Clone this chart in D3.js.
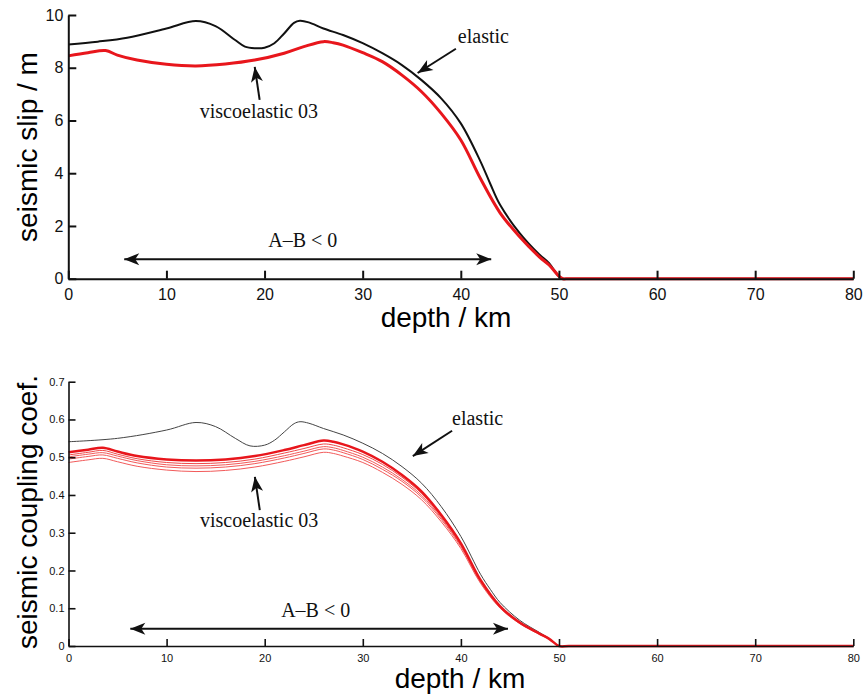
<!DOCTYPE html>
<html>
<head>
<meta charset="utf-8">
<script src="https://cdn.jsdelivr.net/npm/d3@7"></script>
<style>
  body { margin: 0; background: #fff; }
  svg { display: block; }
</style>
</head>
<body>
<div id="chart"></div>
<script>
// ---- data ----
const xTicks = [0, 10, 20, 30, 40, 50, 60, 70, 80];
const slipTicks = [0, 2, 4, 6, 8, 10];
const couplingTicks = [0, 0.1, 0.2, 0.3, 0.4, 0.5, 0.6, 0.7];

// top panel: seismic slip (m)
const slipElasticDepth = [0, 3, 6, 10, 13, 15, 17, 18, 19, 20, 21, 22, 23, 23.6, 24.5, 26, 28, 30, 32, 34, 36, 38, 40, 42, 43, 44, 46, 48, 49, 50, 50.4, 51, 55, 60, 70, 80];
const slipElastic = [8.88, 8.99, 9.14, 9.49, 9.77, 9.58, 9.05, 8.8, 8.74, 8.76, 8.93, 9.3, 9.7, 9.78, 9.72, 9.49, 9.24, 8.93, 8.55, 8.1, 7.53, 6.84, 5.89, 4.45, 3.6, 2.8, 1.73, 0.92, 0.59, 0.08, 0, 0, 0, 0, 0, 0];

const slipViscoDepth = [0, 2, 3.8, 5, 7, 10, 13, 16, 19, 22, 24, 26, 27, 28, 30, 32, 34, 36, 38, 40, 42, 44, 46, 48, 49, 50, 50.4, 51, 55, 60, 70, 80];
const slipVisco = [8.45, 8.57, 8.65, 8.48, 8.29, 8.13, 8.07, 8.14, 8.29, 8.55, 8.8, 8.99, 8.95, 8.86, 8.57, 8.23, 7.72, 7.09, 6.27, 5.26, 3.8, 2.5, 1.59, 0.83, 0.52, 0.1, 0, 0, 0, 0, 0, 0];

// bottom panel: seismic coupling coefficient
const coupElasticDepth = [0, 5, 10, 13, 15, 17, 18.5, 20, 21, 22, 23, 23.6, 24.5, 26, 28, 30, 32, 34, 36, 38, 40, 42, 43, 44, 46, 48, 49, 50, 51, 55, 60, 70, 80];
const coupElastic = [0.541, 0.55, 0.572, 0.592, 0.581, 0.55, 0.53, 0.532, 0.545, 0.567, 0.589, 0.594, 0.59, 0.576, 0.559, 0.537, 0.51, 0.475, 0.431, 0.369, 0.29, 0.19, 0.15, 0.115, 0.068, 0.036, 0.02, 0, 0, 0, 0, 0, 0];

const coupViscoDepth = [0, 2, 3.5, 5, 7, 10, 13, 16, 19, 22, 24, 26, 27, 28, 30, 32, 34, 36, 38, 40, 42, 44, 46, 48, 49, 50, 51, 55, 60, 70, 80];
const coupVisco = [0.513, 0.52, 0.525, 0.515, 0.503, 0.494, 0.491, 0.494, 0.503, 0.519, 0.532, 0.544, 0.541, 0.534, 0.515, 0.488, 0.453, 0.409, 0.347, 0.272, 0.175, 0.105, 0.062, 0.033, 0.019, 0, 0, 0, 0, 0, 0];
const coupVisco1 = [0.506, 0.513, 0.518, 0.508, 0.496, 0.486, 0.483, 0.486, 0.495, 0.511, 0.523, 0.535, 0.532, 0.525, 0.507, 0.481, 0.447, 0.404, 0.343, 0.269, 0.173, 0.104, 0.061, 0.033, 0.019, 0, 0, 0, 0, 0, 0];
const coupVisco2 = [0.501, 0.508, 0.512, 0.503, 0.491, 0.480, 0.477, 0.480, 0.489, 0.504, 0.516, 0.528, 0.525, 0.518, 0.500, 0.474, 0.441, 0.399, 0.339, 0.266, 0.171, 0.103, 0.061, 0.032, 0.019, 0, 0, 0, 0, 0, 0];
const coupVisco3 = [0.495, 0.502, 0.506, 0.497, 0.485, 0.474, 0.471, 0.474, 0.483, 0.498, 0.510, 0.522, 0.519, 0.512, 0.494, 0.468, 0.436, 0.394, 0.335, 0.263, 0.169, 0.102, 0.060, 0.032, 0.018, 0, 0, 0, 0, 0, 0];
const coupVisco4 = [0.486, 0.493, 0.497, 0.488, 0.476, 0.466, 0.462, 0.465, 0.474, 0.489, 0.501, 0.513, 0.510, 0.503, 0.486, 0.460, 0.428, 0.387, 0.329, 0.258, 0.166, 0.100, 0.059, 0.031, 0.018, 0, 0, 0, 0, 0, 0];

const zip = (xs, ys) => xs.map((x, i) => [x, ys[i]]);

const svg = d3.select("#chart").append("svg")
    .attr("width", 865)
    .attr("height", 697);

// arrow head
svg.append("defs").append("marker")
    .attr("id", "head")
    .attr("viewBox", "-16 -7 18 14")
    .attr("markerUnits", "userSpaceOnUse")
    .attr("markerWidth", 18)
    .attr("markerHeight", 14)
    .attr("refX", 0)
    .attr("refY", 0)
    .attr("orient", "auto-start-reverse")
    .append("path")
    .attr("d", "M0,0 L-15,-6 L-11,0 L-15,6 Z")
    .attr("fill", "#111");

const sans = "'Liberation Sans', Arial, Helvetica, sans-serif";
const serif = "'Liberation Serif', 'Times New Roman', serif";

function panel(opt) {
    const x = d3.scaleLinear().domain([0, 80]).range(opt.xRange);
    const y = d3.scaleLinear().domain(opt.yDomain).range(opt.yRange);
    const g = svg.append("g");

    const line = d3.line()
        .x(d => x(d[0]))
        .y(d => y(d[1]))
        .curve(d3.curveCatmullRom.alpha(0.5));

    // curves
    opt.series.forEach(s => {
        g.append("path")
            .datum(zip(s.x, s.y))
            .attr("d", line)
            .attr("fill", "none")
            .attr("stroke", s.color)
            .attr("stroke-width", s.width)
            .attr("stroke-linejoin", "round");
    });

    // axes, ticks pointing inward
    const xAxis = g.append("g")
        .attr("transform", `translate(0,${opt.yRange[0]})`)
        .call(d3.axisBottom(x).tickValues(xTicks).tickSize(-opt.tick).tickSizeOuter(0).tickPadding(opt.xPad));
    const yAxis = g.append("g")
        .attr("transform", `translate(${opt.xRange[0]},0)`)
        .call(d3.axisLeft(y).tickValues(opt.yTicks).tickSize(-opt.tick).tickSizeOuter(0).tickPadding(opt.yPad)
            .tickFormat(d3.format(opt.yFmt)));
    [xAxis, yAxis].forEach(a => {
        a.selectAll("path, line").attr("stroke", "#111").attr("stroke-width", opt.axisW);
        a.selectAll("text").attr("fill", "#111").attr("font-family", sans);
    });
    xAxis.selectAll("text").attr("font-size", opt.xFont);
    yAxis.selectAll("text").attr("font-size", opt.yFont);

    // axis titles
    g.append("text")
        .attr("x", opt.xLabelX).attr("y", opt.xLabelY)
        .attr("text-anchor", "middle")
        .attr("font-family", sans).attr("font-size", 28)
        .text("depth / km");
    g.append("text")
        .attr("transform", `translate(37,${opt.yLabelY}) rotate(-90)`)
        .attr("text-anchor", "middle")
        .attr("font-family", sans).attr("font-size", 28)
        .text(opt.yLabel);

    // annotations
    const a = opt.notes;
    const arrow = (p, q, both) => g.append("line")
        .attr("x1", x(p[0])).attr("y1", y(p[1]))
        .attr("x2", x(q[0])).attr("y2", y(q[1]))
        .attr("stroke", "#111").attr("stroke-width", 2)
        .attr("marker-end", "url(#head)")
        .attr("marker-start", both ? "url(#head)" : null);
    const label = (p, txt, anchor) => g.append("text")
        .attr("x", x(p[0])).attr("y", y(p[1]))
        .attr("text-anchor", anchor)
        .attr("font-family", serif).attr("font-size", 20)
        .attr("fill", "#111")
        .text(txt);

    label(a.elasticText, "elastic", "start");
    arrow(a.elasticFrom, a.elasticTo);
    label(a.viscoText, "viscoelastic 03", "start");
    arrow(a.viscoFrom, a.viscoTo);
    label(a.abText, "A\u2013B < 0", "middle");
    arrow(a.abFrom, a.abTo, true);
}

panel({
    xRange: [68.3, 853.3], yDomain: [0, 10], yRange: [278.7, 15],
    yTicks: slipTicks, yFmt: "d", tick: 8, axisW: 2,
    xPad: 10, yPad: 5, xFont: 16, yFont: 16,
    xLabelX: 446, xLabelY: 327, yLabelY: 147, yLabel: "seismic slip / m",
    series: [
        { x: slipElasticDepth, y: slipElastic, color: "#111", width: 2 },
        { x: slipViscoDepth, y: slipVisco, color: "#e8161c", width: 3 }
    ],
    notes: {
        elasticText: [39.7, 8.94], elasticFrom: [39.5, 8.72], elasticTo: [35.6, 7.8],
        viscoText: [13.4, 6.09], viscoFrom: [19.5, 6.78], viscoTo: [19.0, 8.03],
        abText: [23.9, 1.2], abFrom: [5.7, 0.74], abTo: [43.1, 0.74]
    }
});

panel({
    xRange: [68.5, 853.3], yDomain: [0, 0.7], yRange: [646, 381.7],
    yTicks: couplingTicks, yFmt: "", tick: 7, axisW: 1.6,
    xPad: 8, yPad: 4, xFont: 11, yFont: 11,
    xLabelX: 460, xLabelY: 688, yLabelY: 512, yLabel: "seismic coupling coef.",
    series: [
        { x: coupElasticDepth, y: coupElastic, color: "#444", width: 1 },
        { x: coupViscoDepth, y: coupVisco4, color: "#f25a5a", width: 1 },
        { x: coupViscoDepth, y: coupVisco3, color: "#f25a5a", width: 1 },
        { x: coupViscoDepth, y: coupVisco2, color: "#f25a5a", width: 1 },
        { x: coupViscoDepth, y: coupVisco1, color: "#f04848", width: 1 },
        { x: coupViscoDepth, y: coupVisco, color: "#e8161c", width: 2.5 }
    ],
    notes: {
        elasticText: [39.1, 0.585], elasticFrom: [39.1, 0.57], elasticTo: [35.1, 0.503],
        viscoText: [13.4, 0.315], viscoFrom: [19.5, 0.36], viscoTo: [19.0, 0.448],
        abText: [25.2, 0.077], abFrom: [6.3, 0.046], abTo: [44.8, 0.046]
    }
});
</script>
</body>
</html>
